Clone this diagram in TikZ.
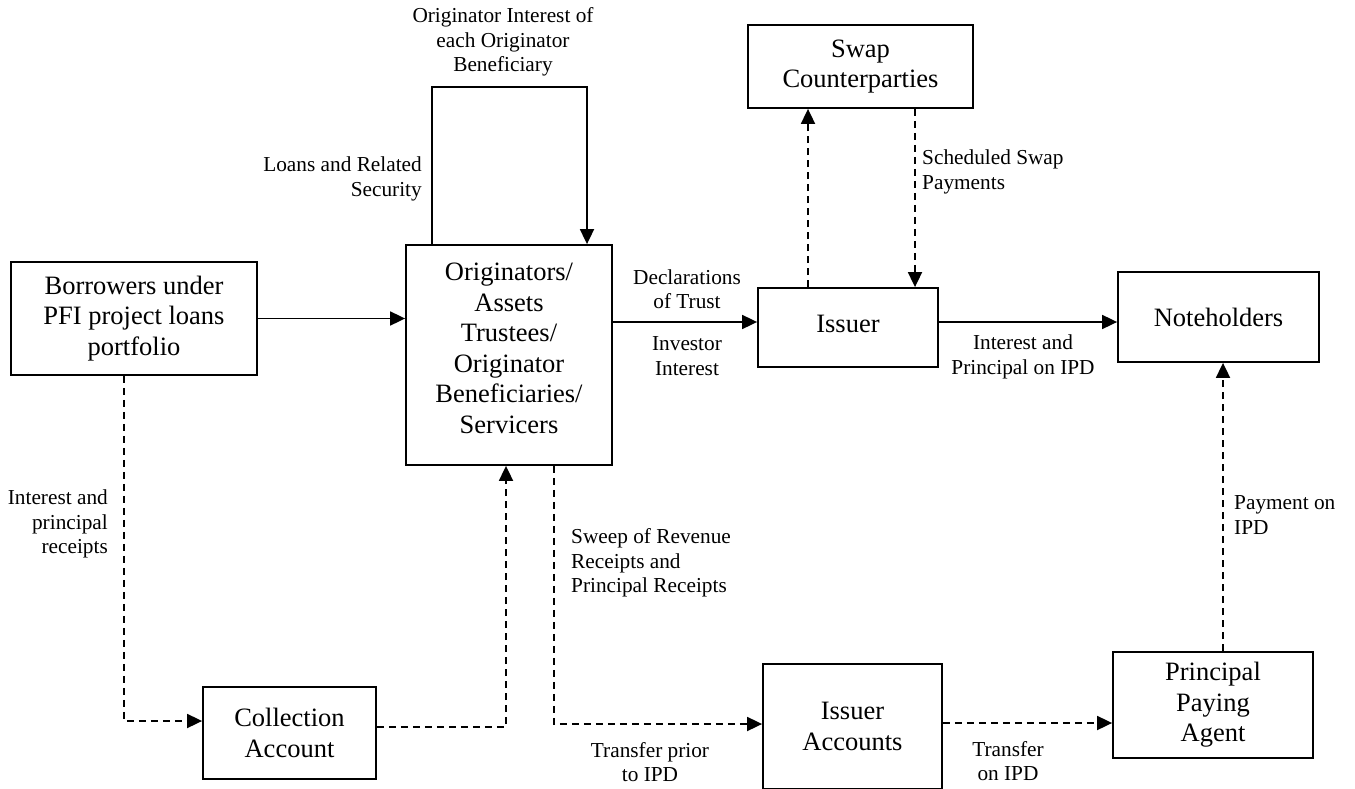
\documentclass[tikz,border=0pt]{standalone}
\usepackage{fontspec}
\setmainfont{Liberation Serif}
\usetikzlibrary{arrows.meta,calc}
\newcommand{\myboxfont}{\fontsize{26.5}{30.5}\selectfont}
\newcommand{\mylblfont}{\fontsize{21.3}{24.5}\selectfont}
\tikzset{
  box/.style={draw, line width=1.8pt, inner sep=0pt, align=center, font=\myboxfont},
  lbl/.style={inner sep=0pt, font=\mylblfont},
  arr/.style={line width=1.8pt, -{Triangle[length=15pt,width=14pt]}},
  darr/.style={arr, dash pattern=on 7pt off 5pt},
}
\begin{document}
\begin{tikzpicture}[x=1pt,y=-1pt]
\useasboundingbox (0,0) rectangle (1355,789);
% boxes
\node[box, minimum width=246pt, minimum height=113pt] (bor) at (134,318.5) {Borrowers under\\PFI project loans\\portfolio};
\node[box, minimum width=206pt, minimum height=220pt, text depth=14pt] (orig) at (509,355) {Originators/\\Assets\\Trustees/\\Originator\\Beneficiaries/\\Servicers};
\node[box, minimum width=180pt, minimum height=79pt, text depth=8pt] (iss) at (848,327.5) {Issuer};
\node[box, minimum width=225pt, minimum height=83pt] (swap) at (860.5,66.5) {Swap\\Counterparties};
\node[box, minimum width=201pt, minimum height=90pt] (note) at (1218.5,317) {Noteholders};
\node[box, minimum width=200pt, minimum height=106pt] (ppa) at (1213,705) {Principal\\Paying\\Agent};
\node[box, minimum width=173pt, minimum height=92pt] (coll) at (289.5,733) {Collection\\Account};
\node[box, minimum width=179pt, minimum height=125pt] (iacc) at (852.5,726.5) {Issuer\\Accounts};
% labels
\node[lbl, align=center] (l1) at (503,42) {Originator Interest of\\each Originator\\Beneficiary};
\node[lbl, align=right, anchor=east] (l2) at (422,179) {Loans and Related\\Security};
\node[lbl, align=center] (l3) at (687,289) {Declarations\\of Trust};
\node[lbl, align=center] (l4) at (687,356) {Investor\\Interest};
\node[lbl, align=left, anchor=west] (l5) at (922,172) {Scheduled Swap\\Payments};
\node[lbl, align=center] (l6) at (1023,357) {Interest and\\Principal on IPD};
\node[lbl, align=left, anchor=west] (l7) at (1234,515) {Payment on\\IPD};
\node[lbl, align=right, anchor=east] (l8) at (108,524) {Interest and\\principal\\receipts};
\node[lbl, align=left, anchor=west] (l9) at (571,563) {Sweep of Revenue\\Receipts and\\Principal Receipts};
\node[lbl, align=center] (l10) at (650,762) {Transfer prior\\to IPD};
\node[lbl, align=center] (l11) at (1008,761) {Transfer\\on IPD};
% helper coordinates
\coordinate (lt) at (432,87);
\coordinate (rt) at (587,87);
\coordinate (ya) at (0,322);
\coordinate (sx1) at (808,0);
\coordinate (sx2) at (915,0);
\coordinate (px) at (1223,0);
\coordinate (bx) at (124,721);
\coordinate (cx) at (506,727);
\coordinate (ox) at (554,724);
\coordinate (iy) at (0,723);
% connectors
\draw[arr] (bor.east) -- (bor.east -| orig.west);
\draw[arr] (orig.north -| lt) -- (lt) -- (rt) -- (orig.north -| rt);
\draw[arr] (orig.east |- ya) -- (iss.west |- ya);
\draw[arr] (iss.east |- ya) -- (note.west |- ya);
\draw[darr] (iss.north -| sx1) -- (swap.south -| sx1);
\draw[darr] (swap.south -| sx2) -- (iss.north -| sx2);
\draw[darr] (ppa.north -| px) -- (note.south -| px);
\draw[darr] (bor.south -| bx) -- (bx) -- (coll.west |- bx);
\draw[darr] (coll.east |- cx) -- (cx) -- (orig.south -| cx);
\draw[darr] (orig.south -| ox) -- (ox) -- (iacc.west |- ox);
\draw[darr] (iacc.east |- iy) -- (ppa.west |- iy);
\end{tikzpicture}
\end{document}
